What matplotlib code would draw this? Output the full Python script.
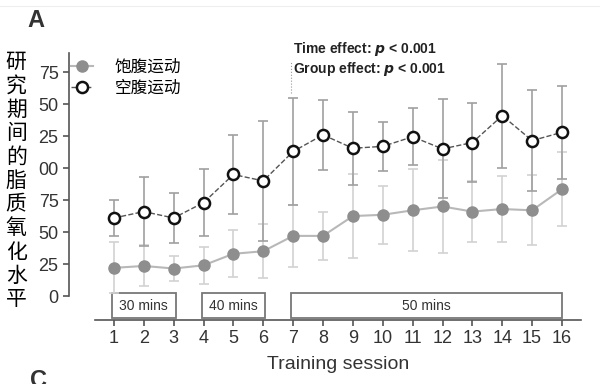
import matplotlib.pyplot as plt
import numpy as np

plt.rcParams['font.family'] = ['Liberation Sans', 'Noto Sans CJK SC', 'DejaVu Sans']

sessions = list(range(1, 17))
fed_mean = [22, 23.5, 21.5, 24, 33, 35, 47, 47, 62.5, 63.5, 67, 70, 66, 68, 67, 83.5]
fed_sd = [20, 16, 10, 14.5, 18.5, 21, 24, 19, 33, 22.5, 32, 36, 24, 25.5, 27.5, 29]
fast_mean = [61, 66, 61, 73, 95, 90, 113, 126, 115.5, 117, 124.5, 115, 120, 141, 121.5, 128]
fast_sd = [14, 26.7, 19.3, 26.2, 31.2, 46.7, 42.2, 27.2, 28.6, 19.2, 22.2, 38.7, 30.6, 40.7, 39.2, 36.5]
yticks = [0, 25, 50, 75, 100, 125, 150, 175]
ytick_labels = ["0", "25", "50", "75", "00", "25", "50", "75"]
blocks = [(0.93, 3.07, "30 mins"), (3.94, 6.07, "40 mins"), (6.94, 15.99, "50 mins")]
labels = ["饱腹运动", "空腹运动"]
ylabel = "研究期间的脂质氧化水平"

fig = plt.figure(figsize=(6, 3.84), dpi=100)
ax = fig.add_axes([0.115, 0.1667, 0.86, 0.6953])

ax.errorbar(sessions, fed_mean, yerr=fed_sd, fmt='none', ecolor='#d2d2d2',
            elinewidth=1.2, capsize=3.5, capthick=1.2, zorder=2)
ax.errorbar(sessions, fast_mean, yerr=fast_sd, fmt='none', ecolor='#a0a0a0',
            elinewidth=1.2, capsize=3.5, capthick=1.2, zorder=3)
ax.plot(sessions, fed_mean, '-o', color='#b8b8b8', mfc='#8e8e8e', mec='#8e8e8e',
        ms=8, lw=1.5, zorder=4, label=labels[0])
ax.plot(sessions, fast_mean, '--o', color='#555555', mfc='white', mec='#111111',
        mew=1.8, ms=8, lw=1.0, zorder=5, label=labels[1])

for x0, x1, txt in blocks:
    ax.add_patch(plt.Rectangle((x0, -17), x1 - x0, 19.6, fill=False,
                               ec='#777777', lw=1.3, zorder=1))
    ax.text((x0 + x1) / 2, -7.5, txt, ha='center', va='center',
            fontsize=10, color='#333333')

ax.plot([6.93, 6.93], [159, 184], ls=':', color='#999999', lw=0.8)
ax.text(6.98, 193, "Time effect: $\\mathbfit{p}$ < 0.001", fontsize=10,
        fontweight='bold', color='#222222', va='center')
ax.text(6.98, 177.5, "Group effect: $\\mathbfit{p}$ < 0.001", fontsize=10,
        fontweight='bold', color='#222222', va='center')

ax.set_xlim(-0.503, 16.77)
ax.set_ylim(-18.75, 190)
ax.spines['top'].set_visible(False)
ax.spines['right'].set_visible(False)
ax.spines['left'].set_bounds(0, 190)
ax.spines['bottom'].set_bounds(0.37, 16.63)
ax.spines['left'].set_color('#555555')
ax.spines['bottom'].set_color('#555555')
ax.spines['left'].set_linewidth(1.2)
ax.spines['bottom'].set_linewidth(1.2)

ax.set_xticks(sessions)
ax.set_xticklabels([str(s) for s in sessions])
ax.set_yticks(yticks)
ax.set_yticklabels(ytick_labels)
ax.tick_params(axis='both', labelsize=13, colors='#555555', labelcolor='#333333',
               length=4, width=1.2)
ax.set_xlabel("Training session", fontsize=14, color='#333333')
ax.xaxis.set_label_coords(0.521, -0.135)

leg = ax.legend(loc='upper left', bbox_to_anchor=(-0.025, 1.035), frameon=False,
                handlelength=1.3, handletextpad=1.3, labelspacing=0.25,
                prop={'family': ['Noto Sans CJK SC'], 'size': 12})

fig.text(0.027, 0.529, "\n".join(ylabel), fontsize=15, ha='center', va='center',
         family=['Noto Sans CJK SC'], linespacing=1.1, color='black')
fig.text(0.046, 0.947, "A", fontsize=17, fontweight='bold', color='#333333',
         ha='left', va='center')
fig.text(0.05, 0.008, "C", fontsize=17, fontweight='bold', color='#333333',
         ha='left', va='center')
fig.add_artist(plt.Line2D([0, 1], [0.984, 0.984], color='#eeeeee', lw=0.8))

fig.savefig("out.png", dpi=100)
